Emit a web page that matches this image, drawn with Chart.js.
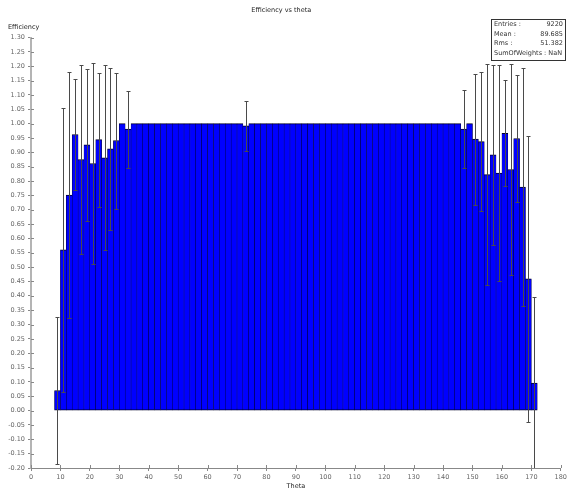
<!DOCTYPE html>
<html>
<head>
<meta charset="UTF-8">
<title>Efficiency vs theta</title>
<style>
body {
	margin: 0;
	background: #fff;
}
.wrap {
	position: relative;
	width: 569px;
	height: 489px;
}
.ylabel {
	position: absolute;
	left: 8px;
	top: 23px;
	font: 6.5px "DejaVu Sans";
	color: #222;
}
.stats {
	position: absolute;
	left: 491px;
	top: 19px;
	width: 75px;
	height: 42px;
	box-sizing: border-box;
	border: 1px solid #333;
	padding: 0 2px 0 2px;
	font: 6.5px "DejaVu Sans";
	line-height: 9.7px;
	color: #333;
	white-space: nowrap;
}
.stats div {
	display: flex;
	justify-content: space-between;
}
</style>
<script src="https://cdn.jsdelivr.net/npm/chart.js"></script>
</head>
<body>
	<div class="wrap">
		<canvas id="eff-chart" width="569" height="489"></canvas>
		<div class="ylabel">Efficiency</div>
		<div class="stats">
			<div><span>Entries :</span><span>9220</span></div>
			<div><span>Mean :</span><span>89.685</span></div>
			<div><span>Rms :</span><span>51.382</span></div>
			<div><span>SumOfWeights : NaN</span></div>
		</div>
	</div>

	<script>
		// bin centres (2 degree bins, 8 .. 172)
		const thetaBins = [ 9, 11, 13, 15, 17, 19, 21, 23, 25, 27, 29, 31, 33,
				35, 37, 39, 41, 43, 45, 47, 49, 51, 53, 55, 57, 59, 61, 63, 65, 67, 69, 71,
				73,
				75, 77, 79, 81, 83, 85, 87, 89, 91, 93, 95, 97, 99, 101, 103, 105, 107, 109,
				111, 113, 115, 117, 119, 121, 123, 125, 127, 129, 131, 133, 135, 137, 139, 141, 143, 145,
				147, 149, 151, 153, 155, 157, 159, 161, 163, 165, 167, 169, 171 ];

		const efficiency = [ 0.07, 0.56, 0.751, 0.962, 0.875, 0.926, 0.861, 0.944, 0.881, 0.912, 0.941, 1.0, 0.981,
				1.0, 1.0, 1.0, 1.0, 1.0, 1.0, 1.0, 1.0, 1.0, 1.0, 1.0, 1.0, 1.0, 1.0, 1.0, 1.0, 1.0, 1.0, 1.0,
				0.992,
				1.0, 1.0, 1.0, 1.0, 1.0, 1.0, 1.0, 1.0, 1.0, 1.0, 1.0, 1.0, 1.0, 1.0, 1.0, 1.0, 1.0, 1.0,
				1.0, 1.0, 1.0, 1.0, 1.0, 1.0, 1.0, 1.0, 1.0, 1.0, 1.0, 1.0, 1.0, 1.0, 1.0, 1.0, 1.0, 1.0,
				0.981, 1.0, 0.946, 0.937, 0.822, 0.891, 0.828, 0.966, 0.84, 0.948, 0.779, 0.459, 0.096 ];

		const efficiencyErr = [ 0.255, 0.495, 0.43, 0.195, 0.33, 0.264, 0.35, 0.233, 0.323, 0.283, 0.237, 0, 0.134,
				0, 0, 0, 0, 0, 0, 0, 0, 0, 0, 0, 0, 0, 0, 0, 0, 0, 0, 0,
				0.087,
				0, 0, 0, 0, 0, 0, 0, 0, 0, 0, 0, 0, 0, 0, 0, 0, 0, 0,
				0, 0, 0, 0, 0, 0, 0, 0, 0, 0, 0, 0, 0, 0, 0, 0, 0, 0,
				0.136, 0, 0.228, 0.242, 0.384, 0.313, 0.377, 0.185, 0.368, 0.222, 0.416, 0.498, 0.3 ];

		const smallFont = { family : 'DejaVu Sans', size : 6.5 };

		// error bars drawn on top of the bars, through the chart scales
		const errorBars = {
			id : 'errorBars',
			afterDatasetsDraw(chart) {
				const c = chart.ctx, xs = chart.scales.x, ys = chart.scales.y, a = chart.chartArea;
				c.save();
				c.beginPath();
				c.rect(a.left, a.top - 2, a.right - a.left, a.bottom - a.top + 2);
				c.clip();
				c.strokeStyle = '#4a4a4a';
				c.lineWidth = 1;
				for (let i = 0; i < thetaBins.length; i++) {
					const e = efficiencyErr[i];
					if (!e) continue;
					const px = Math.round(xs.getPixelForValue(thetaBins[i])) + 0.5;
					const top = Math.round(ys.getPixelForValue(efficiency[i] + e)) + 0.5;
					const bot = Math.round(ys.getPixelForValue(efficiency[i] - e)) + 0.5;
					c.beginPath();
					c.moveTo(px, top);
					c.lineTo(px, bot);
					c.moveTo(px - 2, top);
					c.lineTo(px + 2, top);
					c.moveTo(px - 2, bot);
					c.lineTo(px + 2, bot);
					c.stroke();
				}
				c.restore();
			}
		};

		// ticks cross the axis line, draw the inner half
		const innerTicks = {
			id : 'innerTicks',
			afterDraw(chart) {
				const c = chart.ctx, xs = chart.scales.x, ys = chart.scales.y, a = chart.chartArea;
				c.save();
				c.strokeStyle = '#888';
				c.lineWidth = 1;
				c.beginPath();
				ys.ticks.forEach(t => {
					const py = Math.round(ys.getPixelForValue(t.value)) + 0.5;
					c.moveTo(a.left, py);
					c.lineTo(a.left + 3, py);
				});
				xs.ticks.forEach(t => {
					const px = Math.round(xs.getPixelForValue(t.value)) + 0.5;
					c.moveTo(px, a.bottom);
					c.lineTo(px, a.bottom - 3);
				});
				c.stroke();
				c.restore();
			}
		};

		const ctx = document.querySelector('#eff-chart');
		let config = {
			type : 'bar',
			data : {
				datasets : [ {
					data : thetaBins.map((t, i) => ({ x : t, y : efficiency[i] })),
					backgroundColor : '#0000ff',
					borderColor : '#00002a',
					borderWidth : { top : 1, bottom : 1, left : 0.5, right : 0.5 },
					borderSkipped : false,
					barPercentage : 1,
					categoryPercentage : 1
				} ]
			},
			options : {
				responsive : false,
				animation : false,
				layout : { padding : { top : 0, right : 6.5, left : 0, bottom : 0 } },
				plugins : {
					legend : { display : false },
					tooltip : { enabled : false },
					title : {
						display : true,
						text : 'Efficiency vs theta',
						color : '#222',
						font : { family : 'DejaVu Sans', size : 6.5, weight : 'normal' },
						padding : { top : 6.5, bottom : 23.2 }
					}
				},
				scales : {
					x : {
						type : 'linear',
						min : 0,
						max : 180,
						offset : false,
						ticks : { stepSize : 10, autoSkip : false, maxRotation : 0, padding : 2, color : '#666', font : smallFont },
						grid : { drawOnChartArea : false, offset : false, tickLength : 3, color : '#888' },
						border : { color : '#888', width : 1 },
						title : {
							display : true,
							text : 'Theta',
							color : '#222',
							font : { family : 'DejaVu Sans', size : 6.5, lineHeight : 1 },
							padding : { top : 0, bottom : -1 }
						},
						afterFit : s => { s.height = 21; }
					},
					y : {
						min : -0.2,
						max : 1.3,
						ticks : {
							stepSize : 0.05,
							autoSkip : false,
							padding : 3,
							color : '#666',
							font : smallFont,
							callback : v => Math.abs(v) < 1e-9 ? '0.00' : v.toFixed(2)
						},
						grid : { drawOnChartArea : false, tickLength : 3, color : '#888' },
						border : { color : '#b4b4b4', width : 2 },
						afterFit : s => { s.width = 31; }
					}
				}
			},
			plugins : [ errorBars, innerTicks ]
		};
		new Chart(ctx, config);
	</script>
</body>
</html>
